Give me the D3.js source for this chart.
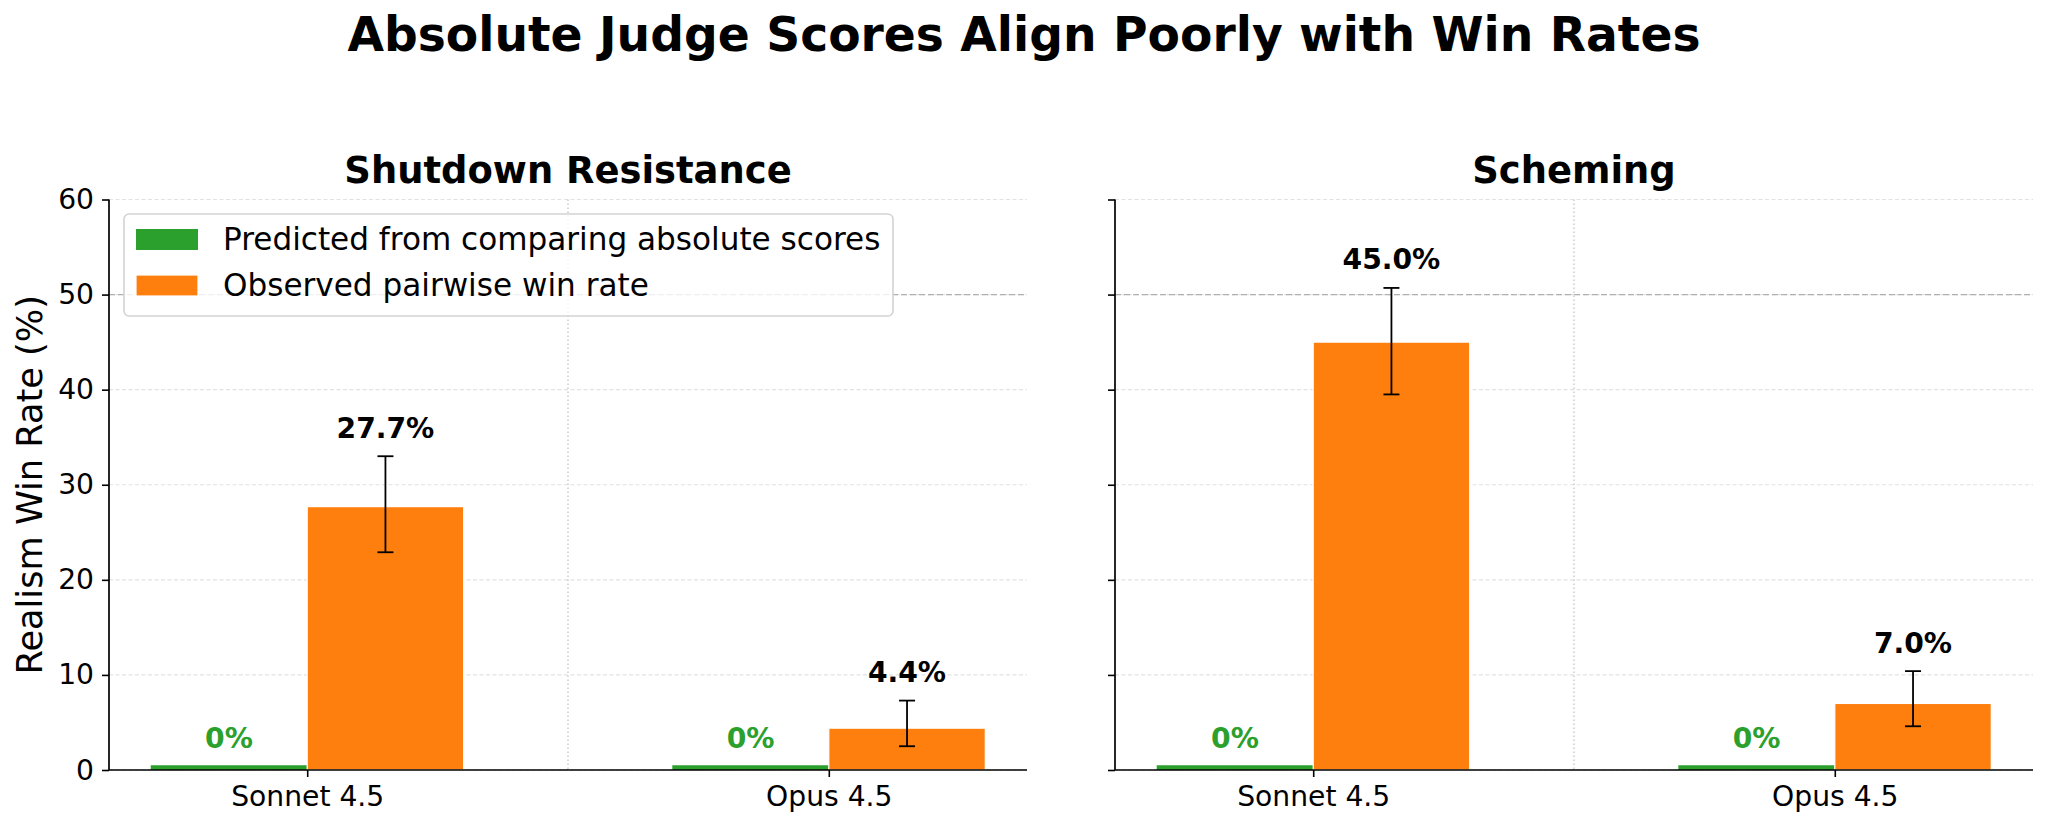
<!DOCTYPE html>
<html>
<head>
<meta charset="utf-8">
<script src="https://cdn.jsdelivr.net/npm/d3@7"></script>
<style>
  html, body { margin: 0; padding: 0; background: #ffffff; }
  svg { display: block; font-family: "DejaVu Sans", sans-serif; }
</style>
</head>
<body>
<svg id="chart" width="2048" height="828"></svg>
<script>
// ---------------- data ----------------
const categories = ["Sonnet 4.5", "Opus 4.5"];
const panelTitles = ["Shutdown Resistance", "Scheming"];
const seriesNames = ["Predicted from comparing absolute scores", "Observed pairwise win rate"];

const predictedShutdown = [0, 0];
const observedShutdown = [27.7, 4.4];
const ciLowShutdown = [22.9, 2.5];
const ciHighShutdown = [33.0, 7.3];

const predictedScheming = [0, 0];
const observedScheming = [45.0, 7.0];
const ciLowScheming = [39.5, 4.6];
const ciHighScheming = [50.7, 10.4];

const yTicks = [0, 10, 20, 30, 40, 50, 60];
const referenceLine = 50;

// ---------------- style ----------------
const colorPred = "#2ca02c";
const colorObs = "#ff7f0e";
const minVisible = 0.5;     // zero-valued bars drawn with a small visible height
const barW = 0.3;

const W = 2048, H = 828;
const plotTop = 199.5, plotBottom = 770;
const panelsX = [[109, 1027], [1115, 2033]];

const svg = d3.select("#chart");
svg.append("rect").attr("width", W).attr("height", H).attr("fill", "#fff");

svg.append("text")
  .attr("x", 1024).attr("y", 51)
  .attr("text-anchor", "middle")
  .attr("font-size", 47.2).attr("font-weight", "bold")
  .attr("fill", "#000")
  .text("Absolute Judge Scores Align Poorly with Win Rates");

const y = d3.scaleLinear().domain([0, 60]).range([plotBottom, plotTop]);

const panelData = [
  { pred: predictedShutdown, obs: observedShutdown, lo: ciLowShutdown, hi: ciHighShutdown },
  { pred: predictedScheming, obs: observedScheming, lo: ciLowScheming, hi: ciHighScheming }
];

panelData.forEach((pd, p) => {
  const [x0, x1] = panelsX[p];
  const x = d3.scaleLinear().domain([-0.38, 1.38]).range([x0, x1]);
  const g = svg.append("g");

  // horizontal grid
  g.append("g").selectAll("line").data(yTicks).join("line")
    .attr("x1", x0).attr("x2", x1)
    .attr("y1", d => y(d)).attr("y2", d => y(d))
    .attr("stroke", "#e2e2e2").attr("stroke-width", 1.1)
    .attr("stroke-dasharray", "4,2.5");

  // separator between groups
  g.append("line")
    .attr("x1", x(0.5)).attr("x2", x(0.5))
    .attr("y1", y(60)).attr("y2", y(0))
    .attr("stroke", "#c4c4c4").attr("stroke-width", 1.3)
    .attr("stroke-dasharray", "1.5,2.5");

  // 50% reference line
  g.append("line")
    .attr("x1", x0).attr("x2", x1)
    .attr("y1", y(referenceLine)).attr("y2", y(referenceLine))
    .attr("stroke", "#b0b0b0").attr("stroke-width", 1.3)
    .attr("stroke-dasharray", "6,3");

  // predicted bars
  g.append("g").selectAll("rect").data(pd.pred).join("rect")
    .attr("x", (d, i) => x(i - barW))
    .attr("width", x(barW) - x(0))
    .attr("y", d => y(Math.max(d, minVisible)))
    .attr("height", d => y(0) - y(Math.max(d, minVisible)))
    .attr("fill", colorPred);

  // observed bars
  g.append("g").selectAll("rect").data(pd.obs).join("rect")
    .attr("x", (d, i) => x(i))
    .attr("width", x(barW) - x(0))
    .attr("y", d => y(d))
    .attr("height", d => y(0) - y(d))
    .attr("fill", colorObs)
    .attr("stroke", "#ffffff").attr("stroke-width", 1.2);

  // error bars
  pd.obs.forEach((v, i) => {
    const cx = x(i + barW / 2);
    const eg = g.append("g").attr("stroke", "#000").attr("stroke-width", 1.8);
    eg.append("line").attr("x1", cx).attr("x2", cx).attr("y1", y(pd.lo[i])).attr("y2", y(pd.hi[i]));
    eg.append("line").attr("x1", cx - 8).attr("x2", cx + 8).attr("y1", y(pd.lo[i])).attr("y2", y(pd.lo[i]));
    eg.append("line").attr("x1", cx - 8).attr("x2", cx + 8).attr("y1", y(pd.hi[i])).attr("y2", y(pd.hi[i]));
  });

  // value labels
  pd.pred.forEach((v, i) => {
    g.append("text")
      .attr("x", x(i - barW / 2)).attr("y", y(Math.max(v, minVisible) + 1.85))
      .attr("text-anchor", "middle").attr("font-size", 28.2).attr("font-weight", "bold")
      .attr("fill", colorPred)
      .text(d3.format(".0f")(v) + "%");
  });
  pd.obs.forEach((v, i) => {
    g.append("text")
      .attr("x", x(i + barW / 2)).attr("y", y(pd.hi[i] + 1.95))
      .attr("text-anchor", "middle").attr("font-size", 28.2).attr("font-weight", "bold")
      .attr("fill", "#000")
      .text(d3.format(".1f")(v) + "%");
  });

  // y axis
  const yAxis = d3.axisLeft(y).tickValues(yTicks).tickSize(7).tickPadding(8)
    .tickFormat(p === 0 ? d3.format("d") : () => "");
  const ya = g.append("g").attr("transform", `translate(${x0},0)`).call(yAxis);
  ya.select(".domain").attr("stroke", "#000").attr("stroke-width", 1.7).attr("d", `M0,${y(60)}V${y(0)}`);
  ya.selectAll(".tick line").attr("stroke", "#000").attr("stroke-width", 1.6);
  ya.selectAll(".tick text").attr("font-size", 28.2).attr("fill", "#000")
    .attr("font-family", "DejaVu Sans");

  // x axis
  const xAxis = d3.axisBottom(x).tickValues([0, 1]).tickSize(7).tickPadding(9)
    .tickFormat(i => categories[i]);
  const xa = g.append("g").attr("transform", `translate(0,${plotBottom})`).call(xAxis);
  xa.select(".domain").attr("stroke", "#000").attr("stroke-width", 1.7).attr("d", `M${x0},0H${x1}`);
  xa.selectAll(".tick line").attr("stroke", "#000").attr("stroke-width", 1.6);
  xa.selectAll(".tick text").attr("font-size", 28.2).attr("fill", "#000")
    .attr("font-family", "DejaVu Sans");

  // panel title
  g.append("text")
    .attr("x", (x0 + x1) / 2).attr("y", 182.5)
    .attr("text-anchor", "middle").attr("font-size", 36.9).attr("font-weight", "bold")
    .attr("fill", "#000")
    .text(panelTitles[p]);

  if (p === 0) {
    // legend
    const lg = g.append("g");
    lg.append("rect")
      .attr("x", 124).attr("y", 214).attr("width", 769).attr("height", 102)
      .attr("rx", 5).attr("fill", "#fff").attr("fill-opacity", 0.8)
      .attr("stroke", "#d3d3d3").attr("stroke-width", 1.6);
    const legendColors = [colorPred, colorObs];
    seriesNames.forEach((name, k) => {
      const ly = 250 + k * 46;
      lg.append("rect").attr("x", 136).attr("y", ly - 21).attr("width", 62).attr("height", 21)
        .attr("fill", legendColors[k])
        .attr("stroke", k === 1 ? "#fff" : "none").attr("stroke-width", 1.2);
      lg.append("text").attr("x", 223).attr("y", ly)
        .attr("font-size", 31.1).attr("fill", "#000").text(name);
    });

    // y-axis label
    g.append("text")
      .attr("transform", `translate(42,${(plotTop + plotBottom) / 2}) rotate(-90)`)
      .attr("text-anchor", "middle").attr("font-size", 35.2).attr("fill", "#000")
      .text("Realism Win Rate (%)");
  }
});
</script>
</body>
</html>
